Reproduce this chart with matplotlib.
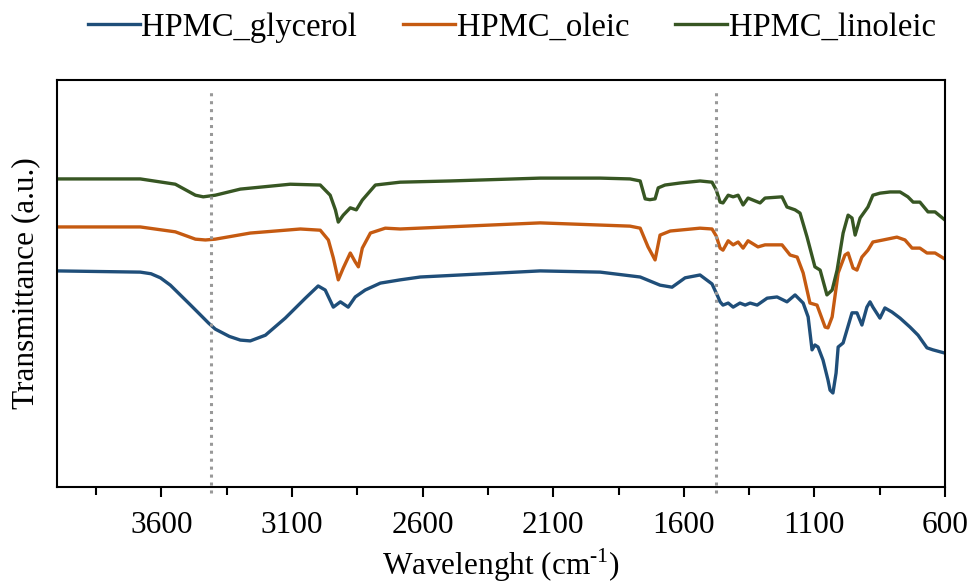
import numpy as np
import matplotlib
matplotlib.use("Agg")
import matplotlib.pyplot as plt

plt.rcParams['font.family'] = ['Liberation Serif', 'DejaVu Serif']
plt.rcParams['mathtext.fontset'] = 'custom'
plt.rcParams['mathtext.rm'] = 'Liberation Serif'

# FTIR spectra (wavenumber cm-1, transmittance a.u.)
wn_glycerol = [4000, 3681, 3640, 3604, 3566, 3528, 3490, 3451, 3420, 3394, 3340, 3298, 3260,
               3202, 3126, 3049, 3000, 2973, 2942, 2915, 2885, 2858, 2820, 2762, 2686,
               2609, 2150, 1920, 1767, 1691, 1645, 1595, 1538, 1492, 1469, 1461, 1450,
               1430, 1411, 1385, 1365, 1346, 1319, 1281, 1243, 1205, 1174, 1143, 1124,
               1109, 1098, 1086, 1067, 1048, 1040, 1029, 1017, 1009, 990, 956, 937, 918,
               899, 887, 876, 849, 830, 803, 772, 734, 703, 669, 646, 600]
t_glycerol = [53.1, 52.8, 52.4, 51.4, 49.6, 47.2, 44.8, 42.3, 40.3, 38.8, 37.0, 36.1, 35.9,
              37.3, 41.5, 46.4, 49.4, 48.4, 44.2, 45.5, 44.2, 46.7, 48.4, 50.1, 50.9,
              51.6, 53.1, 52.8, 51.6, 49.6, 49.1, 51.4, 52.1, 49.9, 46.7, 45.5, 44.7,
              45.2, 44.2, 45.2, 44.7, 45.2, 44.7, 46.4, 46.7, 45.5, 47.2, 45.2, 41.8,
              33.7, 34.9, 34.4, 31.2, 26.3, 23.8, 23.1, 28.0, 34.4, 35.4, 42.8, 42.8, 39.8,
              44.2, 45.5, 44.2, 41.5, 44.0, 43.0, 41.5, 39.3, 37.3, 34.2, 33.7, 32.9]

wn_oleic = [4000, 3681, 3547, 3470, 3432, 3394, 3260, 3068, 2992, 2961, 2942, 2923,
            2904, 2877, 2858, 2846, 2831, 2800, 2743, 2686, 2150, 1806, 1767, 1737,
            1710, 1691, 1652, 1538, 1492, 1476, 1461, 1450, 1430, 1411, 1392, 1373,
            1354, 1316, 1289, 1224, 1193, 1166, 1143, 1117, 1090, 1059, 1048, 1032,
            1009, 983, 971, 952, 937, 918, 895, 876, 837, 784, 753, 726, 696, 669, 638, 600]
t_oleic = [63.9, 63.9, 62.7, 60.9, 60.7, 60.9, 62.4, 63.4, 63.1, 60.7, 56.3, 50.9,
           53.8, 57.5, 55.3, 54.1, 58.7, 62.4, 63.6, 63.4, 64.9, 64.1, 63.6, 59.0,
           55.8, 61.9, 62.9, 63.6, 63.4, 61.7, 58.7, 58.2, 60.5, 59.5, 60.2, 58.7,
           60.5, 59.0, 59.5, 59.5, 57.0, 56.5, 52.6, 45.2, 44.7, 39.3, 39.1, 41.8,
           52.6, 57.0, 57.5, 53.8, 53.3, 56.5, 58.2, 60.2, 60.7, 61.4, 60.7, 58.7, 58.7, 57.5, 57.5, 56.0]

wn_linoleic = [4000, 3681, 3547, 3470, 3440, 3394, 3298, 3107, 2992, 2954, 2934, 2923,
               2904, 2877, 2854, 2831, 2781, 2686, 2494, 2150, 1920, 1806, 1767, 1748,
               1730, 1710, 1698, 1672, 1614, 1538, 1492, 1476, 1461, 1450, 1430, 1411,
               1392, 1373, 1354, 1335, 1308, 1289, 1224, 1205, 1174, 1155, 1128, 1098,
               1078, 1052, 1032, 1013, 990, 971, 956, 944, 925, 895, 876, 849, 810, 772,
               742, 722, 696, 665, 638, 600]
t_linoleic = [75.7, 75.7, 74.4, 71.7, 71.3, 71.7, 73.2, 74.4, 74.2, 71.7, 68.1, 65.1,
              66.8, 68.6, 68.1, 70.5, 74.2, 74.9, 75.2, 75.9, 75.9, 75.7, 75.2, 70.8,
              70.6, 70.8, 73.5, 74.2, 74.7, 75.2, 74.9, 73.0, 70.0, 69.8, 71.7, 71.3,
              71.7, 69.3, 71.0, 70.5, 69.8, 71.0, 71.3, 68.8, 68.1, 67.3, 61.4, 54.1,
              53.3, 47.2, 48.4, 53.3, 62.4, 66.8, 66.1, 61.9, 66.1, 68.8, 71.7, 72.2, 72.5, 72.5,
              71.3, 70.0, 70.0, 67.6, 67.6, 65.6]

marked_bands = [3410, 1476]

labels = ["HPMC_glycerol", "HPMC_oleic", "HPMC_linoleic"]
colors = ["#1F4E79", "#C55A11", "#375623"]

fig = plt.figure(figsize=(9.71, 5.85), dpi=100)
ax = fig.add_axes([0.0587, 0.1675, 0.9145, 0.6957])

series = [(wn_glycerol, t_glycerol), (wn_oleic, t_oleic), (wn_linoleic, t_linoleic)]
for (x, y), lab, c in zip(series, labels, colors):
    ax.plot(x, y, color=c, lw=2.4, label=lab, solid_joinstyle="round")

ax.vlines(marked_bands, -1.5, 98, colors="#999999", linestyles=(0, (1, 1.6)),
          lw=2.2, clip_on=False)

ax.set_xlim(4000, 600)
ax.set_ylim(0, 100)
ax.set_xticks([3600, 3100, 2600, 2100, 1600, 1100, 600])
ax.set_xticks(np.arange(3850, 600, -250), minor=True)
ax.set_yticks([])
ax.tick_params(axis="x", which="major", direction="out", length=7, width=1.5,
               labelsize=22.5, pad=10)
ax.tick_params(axis="x", which="minor", direction="out", length=5.5, width=1.5)
for s in ax.spines.values():
    s.set_linewidth(1.5)

ax.set_xlabel("Wavelenght (cm$^{\\text{-1}}$)", fontsize=22.5, labelpad=5)
ax.set_ylabel("Transmittance (a.u.)", fontsize=22.5, labelpad=12)

fig.legend(loc="center", bbox_to_anchor=(0.527, 0.953), ncol=3, frameon=False,
           fontsize=23.5, handlelength=1.6, handletextpad=0.05, columnspacing=1.4)

plt.savefig("out.png", dpi=100)
